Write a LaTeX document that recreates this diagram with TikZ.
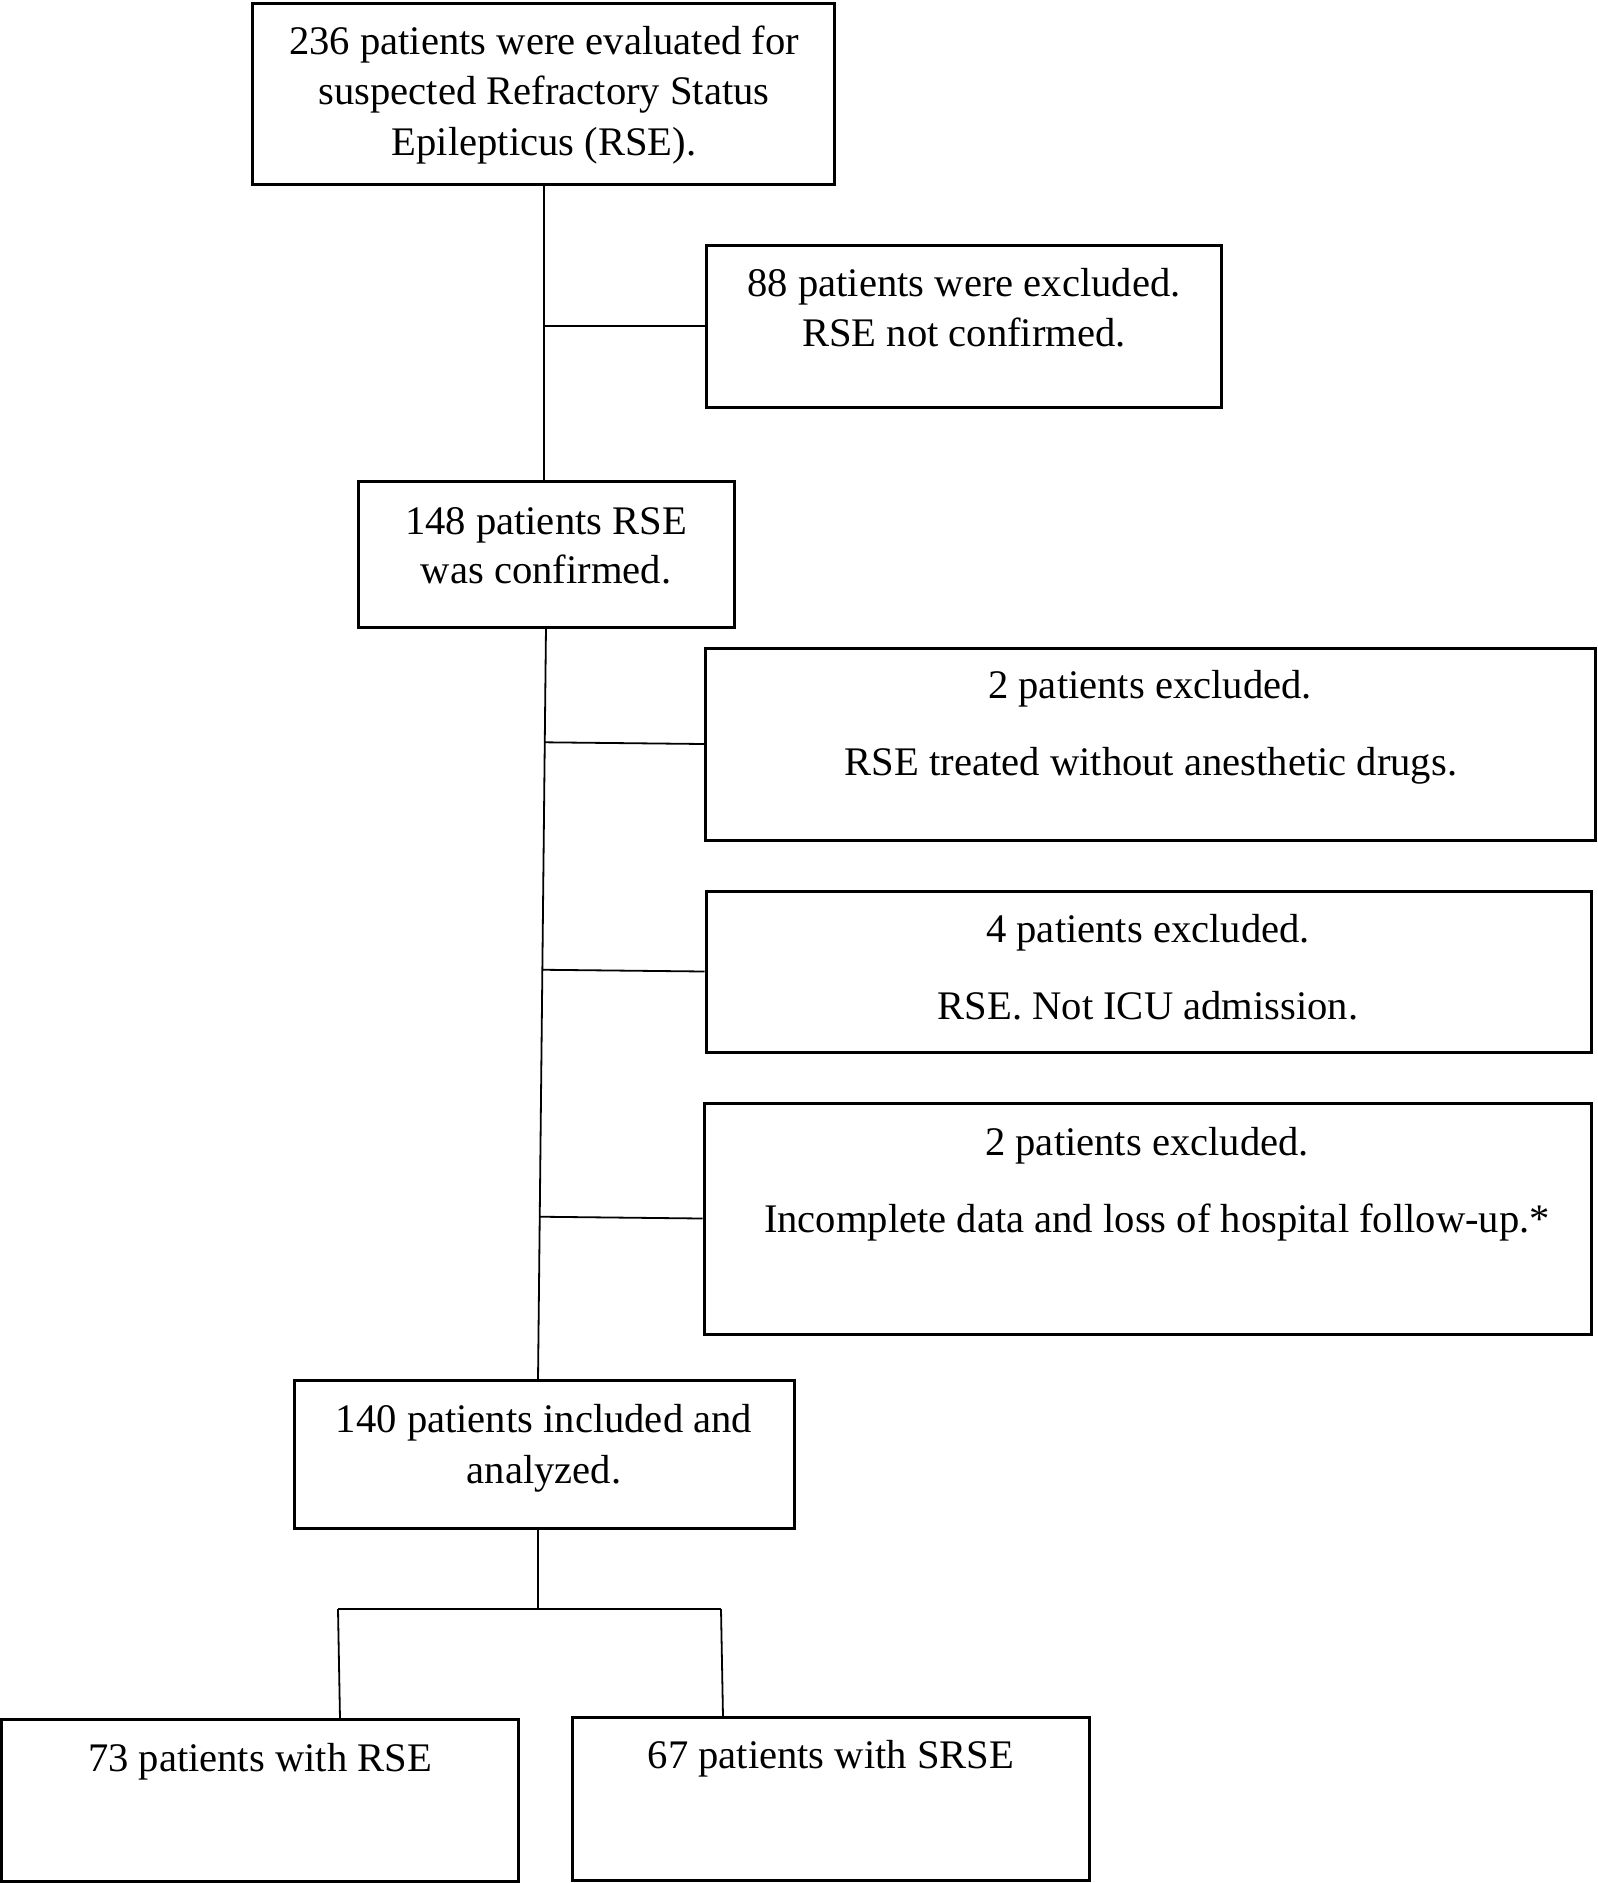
\documentclass[tikz,border=0pt]{standalone}
\usepackage{fontspec}
\setmainfont{Liberation Serif}
\usetikzlibrary{calc}
\begin{document}
\begin{tikzpicture}[x=1pt,y=-1pt,
  box/.style={draw=black,line width=3pt,rectangle,inner sep=0pt,fill=none},
  txt/.style={anchor=base,inner sep=0pt,font=\fontsize{40.6}{50.5}\selectfont},
  link/.style={draw=black,line width=1.8pt}]
\useasboundingbox (0,0) rectangle (1598,1883);
% boxes
\node[box,minimum width=582.5pt,minimum height=181pt] (b1) at (543.7,93.5) {};
\node[box,minimum width=515pt,minimum height=161.5pt] (b2) at (963.5,326.3) {};
\node[box,minimum width=376pt,minimum height=145.5pt] (b3) at (546,554.7) {};
\node[box,minimum width=889.5pt,minimum height=192pt] (b4) at (1150.7,744) {};
\node[box,minimum width=885pt,minimum height=161pt] (b5) at (1148.5,971.5) {};
\node[box,minimum width=887pt,minimum height=231pt] (b6) at (1147.5,1218.5) {};
\node[box,minimum width=500pt,minimum height=148pt] (b7) at (544,1454) {};
\node[box,minimum width=517.5pt,minimum height=162pt] (b8) at (260,1800) {};
\node[box,minimum width=517pt,minimum height=163pt] (b9) at (830.5,1798.5) {};
% texts
\node[txt] (t1a) at (544,54) {236 patients were evaluated for};
\node[txt] (t1b) at (544,104.5) {suspected Refractory Status};
\node[txt] (t1c) at (544,155) {Epilepticus (RSE).};
\node[txt] (t2a) at (964,296) {88 patients were excluded.};
\node[txt] (t2b) at (964,346) {RSE not confirmed.};
\node[txt] (t3a) at (546,534) {148 patients RSE};
\node[txt] (t3b) at (546,583) {was confirmed.};
\node[txt] (t4a) at (1150,698) {2 patients excluded.};
\node[txt] (t4b) at (1151,775) {RSE treated without anesthetic drugs.};
\node[txt] (t5a) at (1148,942) {4 patients excluded.};
\node[txt] (t5b) at (1148,1019) {RSE. Not ICU admission.};
\node[txt] (t6a) at (1147,1155) {2 patients excluded.};
\node[txt] (t6b) at (1157,1232) {Incomplete data and loss of hospital follow-up.*};
\node[txt] (t7a) at (544,1432) {140 patients included and};
\node[txt] (t7b) at (544,1483) {analyzed.};
\node[txt] (t8a) at (260,1771) {73 patients with RSE};
\node[txt] (t9a) at (831,1768) {67 patients with SRSE};
% connector points
\coordinate (top3) at (546,626);
\coordinate (c7) at (538,1381);
\coordinate (d7) at (538,1527);
\coordinate (split) at (538,1609);
\coordinate (fl) at (338,1609);
\coordinate (fr) at (721,1609);
\coordinate (e8) at (340,1719);
\coordinate (e9) at (723,1717);
% connectors
\draw[link] (b1.south -| 544,0) -- (b3.north -| 544,0);
\draw[link] (b2.west) -- (b2.west -| 544,0);
\draw[link] (top3) -- (c7);
\draw[link] (b4.west) -- ($(top3)!(b4.west)!(c7)$);
\draw[link] (b5.west) -- ($(top3)!(b5.west)!(c7)$);
\draw[link] (b6.west) -- ($(top3)!(b6.west)!(c7)$);
\draw[link] (d7) -- (split);
\draw[link] (fl) -- (fr);
\draw[link] (fl) -- (e8);
\draw[link] (fr) -- (e9);
\end{tikzpicture}
\end{document}
